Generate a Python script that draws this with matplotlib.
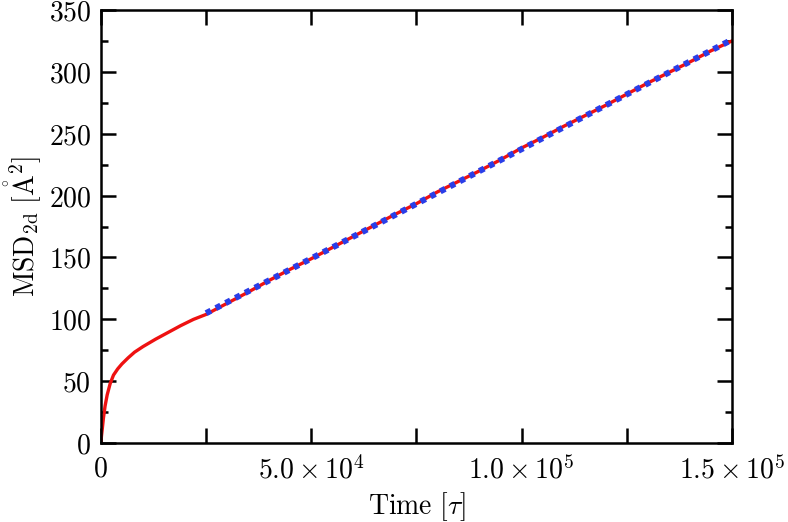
import matplotlib
matplotlib.use("Agg")
import matplotlib.pyplot as plt
import numpy as np
from matplotlib.ticker import MultipleLocator, FixedLocator, FixedFormatter

plt.rcParams['mathtext.fontset'] = 'cm'
plt.rcParams['font.family'] = ['DejaVu Serif']

# MSD data (time in tau, MSD in Angstrom^2)
time = [0, 150, 350, 600, 1000, 1500, 2200, 3000, 4000, 5000, 6500, 8000, 10000,
        13000, 16000, 19000, 22000, 25000, 30000, 35000, 40000, 45000, 50000,
        55000, 60000, 65000, 70000, 75000, 80000, 85000, 90000, 95000, 100000,
        105000, 110000, 115000, 120000, 125000, 130000, 135000, 140000, 145000, 150000]
msd = [0, 6, 12, 20, 30, 39, 48, 55, 60, 64, 69, 73.5, 78,
       84, 89.5, 95, 100, 104, 113, 122, 131.5, 140.5, 149,
       158, 167, 176, 185, 193.5, 203, 211.5, 220, 229, 238.5,
       247, 256, 264.5, 273, 282, 291, 299.5, 308, 317, 325]

# linear fit
fit_time = [25000, 150000]
fit_msd = [105, 326]

fig = plt.figure(figsize=(7.88, 5.22), dpi=100)
ax = fig.add_axes([0.128, 0.151, 0.801, 0.830])

ax.plot(time, msd, color='#ee1111', lw=2.4, zorder=2)
ax.plot(fit_time, fit_msd, color='#2a3ee8', lw=4.4, linestyle=(0, (0.9, 0.9)), zorder=3)

ax.set_xlim(0, 150000)
ax.set_ylim(0, 350)

xt = [0, 50000, 100000, 150000]
xl = [r'$0$', r'$5.0\times10^{4}$', r'$1.0\times10^{5}$', r'$1.5\times10^{5}$']
ax.xaxis.set_major_locator(FixedLocator(xt))
ax.xaxis.set_major_formatter(FixedFormatter(xl))
ax.xaxis.set_minor_locator(MultipleLocator(25000))
yt = list(range(0, 351, 50))
ax.yaxis.set_major_locator(FixedLocator(yt))
ax.yaxis.set_major_formatter(FixedFormatter([r'$%d$' % v for v in yt]))
ax.yaxis.set_minor_locator(MultipleLocator(25))

ax.tick_params(which='both', direction='in', top=True, right=True, width=1.8, labelsize=20)
ax.tick_params(which='major', length=10.5, pad=7)
ax.tick_params(axis='x', which='major', pad=9)
ax.tick_params(axis='y', which='minor', length=5)
ax.tick_params(axis='x', which='minor', length=10.5)
for s in ax.spines.values():
    s.set_linewidth(1.8)

ax.set_xlabel(r'$\mathrm{Time}\ [\tau]$', fontsize=20, labelpad=4)
ax.set_ylabel(r'$\mathrm{MSD}_{\mathrm{2d}}\ [\mathring{\mathrm{A}}^{2}]$', fontsize=20, labelpad=4)

fig.savefig('out.png', dpi=100)
